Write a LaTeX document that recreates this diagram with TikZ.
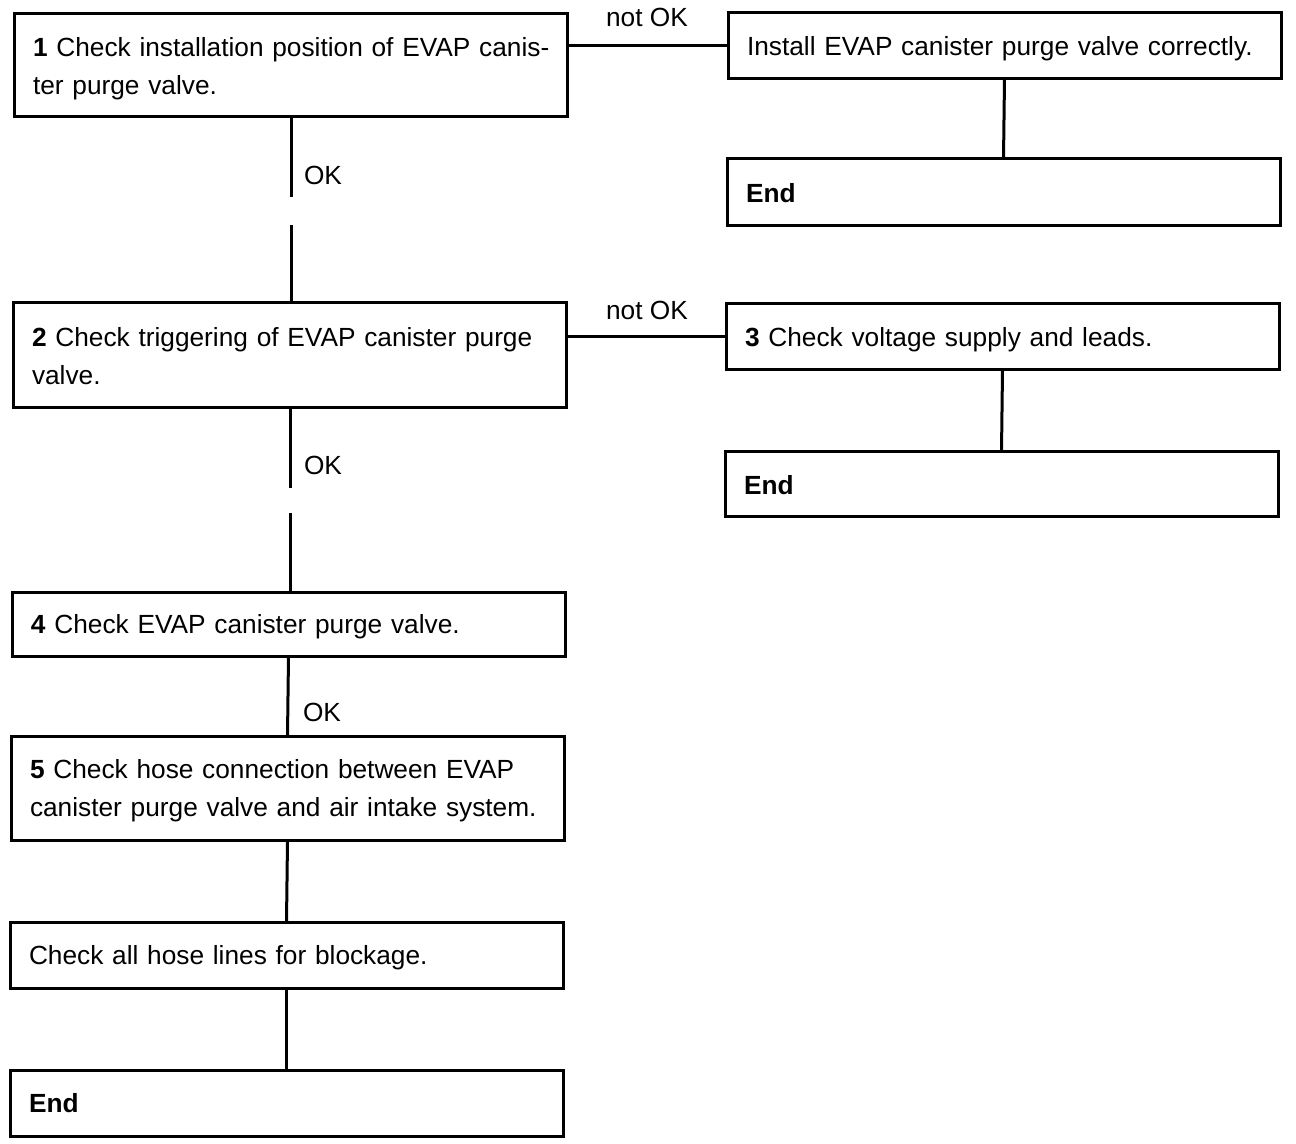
\documentclass[tikz,border=0pt]{standalone}
\usepackage{fontspec}
\setmainfont{Liberation Sans}
\begin{document}
\begin{tikzpicture}[x=0.75pt,y=-0.75pt,
  txt/.style={font=\fontsize{19.7}{28.5}\selectfont},
  box/.style={txt, draw, line width=2.25pt, rectangle, anchor=north west,
    outer sep=0pt, inner xsep=14.25pt, inner ysep=0pt, align=left,
    minimum width=414.75pt, text width=386.25pt, text depth=0pt},
  twoline/.style={text depth=28.5pt},
  conn/.style={line width=2.25pt},
  lbl/.style={txt, inner sep=0pt}]
\useasboundingbox (0,0) rectangle (1296,1144);
% boxes
\node[box, twoline, minimum height=77.25pt] (b1) at (14,14)
  {\mbox{\textbf{1} Check installation position of EVAP canis-}\\\mbox{ter purge valve.}};
\node[box, minimum height=49.5pt] (inst) at (728,13)
  {\mbox{Install EVAP canister purge valve correctly.}};
\node[box, minimum height=50.25pt] (end1) at (727,159) {\textbf{End}};
\node[box, twoline, minimum height=78.75pt] (b2) at (13,303)
  {\mbox{\textbf{2} Check triggering of EVAP canister purge}\\\mbox{valve.}};
\node[box, minimum height=49.5pt] (b3) at (726,304)
  {\mbox{\textbf{3} Check voltage supply and leads.}};
\node[box, minimum height=48.75pt] (end2) at (725,452) {\textbf{End}};
\node[box, minimum height=48pt] (b4) at (12,592)
  {\mbox{\textbf{4} Check EVAP canister purge valve.}};
\node[box, twoline, minimum height=78pt] (b5) at (11,736)
  {\mbox{\textbf{5} Check hose connection between EVAP}\\\mbox{canister purge valve and air intake system.}};
\node[box, minimum height=49.5pt] (chk) at (10,922)
  {\mbox{Check all hose lines for blockage.}};
\node[box, minimum height=49.5pt] (end3) at (10,1070) {\textbf{End}};
% labels
\node[lbl] (l1) at (647,17) {not OK};
\node[lbl] (l2) at (647,310) {not OK};
\node[lbl] (ok1) at (323,175) {OK};
\node[lbl] (ok2) at (323,465) {OK};
\node[lbl] (ok3) at (322,712) {OK};
% gap coordinates
\coordinate (g1a) at (291,197);
\coordinate (g1b) at (291,225);
\coordinate (g2a) at (290,488);
\coordinate (g2b) at (290,513);
% connectors
\draw[conn] (inst.west -| b1.east) -- (inst.west);
\draw[conn] (inst.south) -- (end1.north);
\draw[conn] (b1.south -| g1a) -- (g1a);
\draw[conn] (g1b) -- (b2.north -| g1b);
\draw[conn] (b3.west -| b2.east) -- (b3.west);
\draw[conn] (b3.south) -- (end2.north);
\draw[conn] (b2.south -| g2a) -- (g2a);
\draw[conn] (g2b) -- (b4.north -| g2b);
\draw[conn] (b4.south) -- (b5.north);
\draw[conn] (b5.south) -- (chk.north);
\draw[conn] (chk.south) -- (end3.north);
\end{tikzpicture}
\end{document}
